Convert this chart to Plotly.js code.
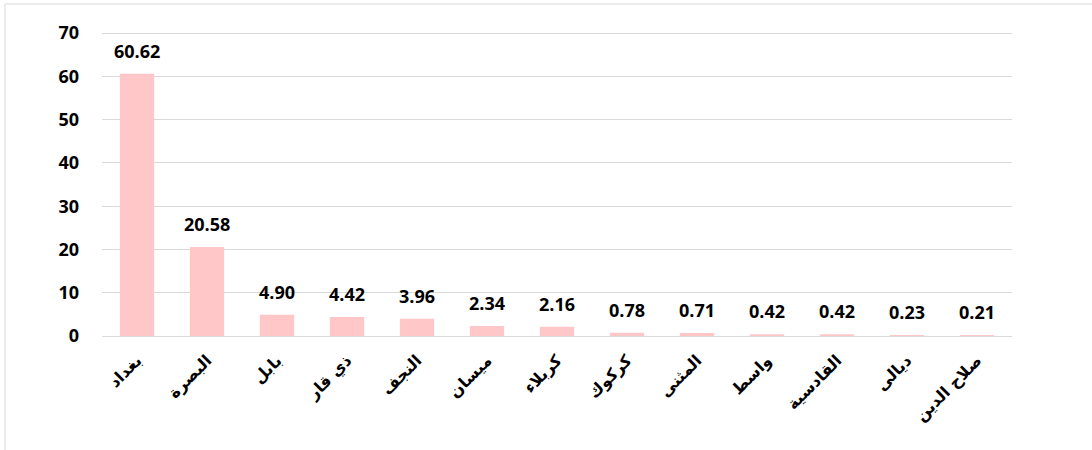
<!DOCTYPE html>
<html>
<head>
<meta charset="utf-8">
<script src="https://cdn.plot.ly/plotly-3.0.1.min.js"></script>
<style>html,body{margin:0;padding:0;background:#fff;}#chart{width:1092px;height:450px;}</style>
</head>
<body>
<div id="chart"></div>
<script>
const categories = ["بغداد","البصرة","بابل","ذي قار","النجف","ميسان","كربلاء","كركوك","المثنى","واسط","القادسية","ديالى","صلاح الدين"];
const values = [60.62, 20.58, 4.90, 4.42, 3.96, 2.34, 2.16, 0.78, 0.71, 0.42, 0.42, 0.23, 0.21];
const valueLabels = ["60.62","20.58","4.90","4.42","3.96","2.34","2.16","0.78","0.71","0.42","0.42","0.23","0.21"];
const yTicks = [0,10,20,30,40,50,60,70];

const trace = {
  type: 'bar',
  x: categories,
  y: values,
  marker: {color: '#FFC7C7', line: {width: 0}},
  hoverinfo: 'none'
};

const annotations = categories.map((c, i) => ({
  x: c, y: values[i], xref: 'x', yref: 'y',
  text: valueLabels[i], showarrow: false,
  yanchor: 'bottom', yshift: 9,
  font: {family: 'Open Sans, Lato, sans-serif', size: 18, color: '#000', weight: 'bold'}
}));

const layout = {
  width: 1092, height: 450,
  margin: {l: 102, r: 80, t: 31, b: 114},
  paper_bgcolor: '#fff', plot_bgcolor: '#fff',
  bargap: 0.51,
  showlegend: false,
  annotations: annotations,
  xaxis: {
    type: 'category',
    tickangle: -45,
    tickfont: {family: 'DejaVu Sans, sans-serif', size: 16, color: '#000', weight: 'bold'},
    showgrid: false, zeroline: false, showline: false, ticks: '',
    ticklabelstandoff: 11
  },
  yaxis: {
    range: [0, 70.5],
    tickvals: yTicks,
    ticktext: yTicks.map(String),
    tickfont: {family: 'Open Sans, Lato, sans-serif', size: 18, color: '#000', weight: 'bold'},
    gridcolor: '#D9D9D9', gridwidth: 1,
    zeroline: true, zerolinecolor: '#D9D9D9', zerolinewidth: 1,
    showline: false, ticks: '',
    ticklabelstandoff: 22
  },
  shapes: [{
    type: 'rect', xref: 'paper', yref: 'paper',
    x0: -0.1066, x1: 1.3, y0: -0.6, y1: 1.0885,
    line: {color: '#D9D9D9', width: 1}, fillcolor: 'rgba(0,0,0,0)', layer: 'below'
  }]
};

Plotly.newPlot('chart', [trace], layout, {displayModeBar: false, staticPlot: true});
</script>
</body>
</html>
